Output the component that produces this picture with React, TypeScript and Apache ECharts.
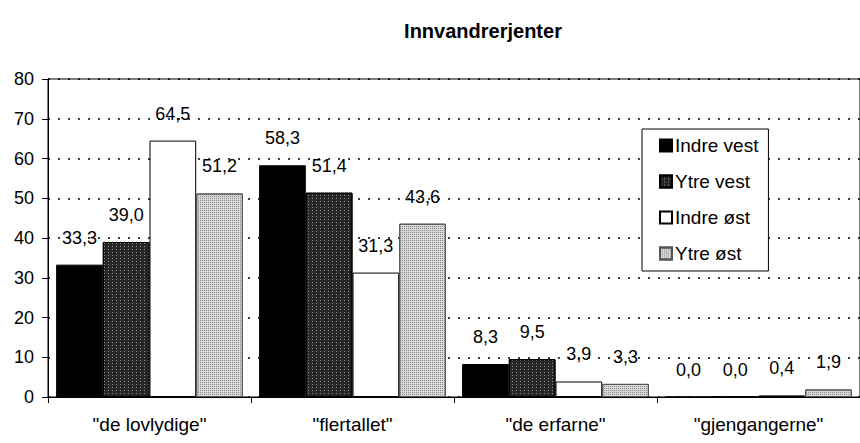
import React, { useEffect, useRef } from "react";
import * as echarts from "echarts";

const categories = ['"de lovlydige"', '"flertallet"', '"de erfarne"', '"gjengangerne"'];
const seriesNames = ["Indre vest", "Ytre vest", "Indre øst", "Ytre øst"];
const indreVest = [33.3, 58.3, 8.3, 0.0];
const ytreVest = [39.0, 51.4, 9.5, 0.0];
const indreOst = [64.5, 31.3, 3.9, 0.4];
const ytreOst = [51.2, 43.6, 3.3, 1.9];
const yTicks = { min: 0, max: 80, interval: 10 };

const FONT = "Liberation Sans, Arial, sans-serif";

export default function App() {
  const ref = useRef<HTMLDivElement>(null);
  useEffect(() => {
    if (!ref.current) return;
    const chart = echarts.init(ref.current, undefined, { renderer: "svg" });
    const label = {
      show: true,
      position: "top",
      distance: 18,
      color: "#000",
      fontSize: 18,
      fontFamily: FONT,
      formatter: (p: any) => Number(p.value).toFixed(1).replace(".", ","),
    };
    const styles: any[] = [
      { color: "#000", borderColor: "#000", borderWidth: 1 },
      {
        color: "#262626",
        borderColor: "#000",
        borderWidth: 1,
        decal: { symbol: "rect", symbolSize: 1, dashArrayX: [1, 3], dashArrayY: [1, 2], color: "rgba(190,190,190,0.7)" },
      },
      { color: "#fff", borderColor: "#000", borderWidth: 1 },
      {
        color: "#d8d8d8",
        borderColor: "#555",
        borderWidth: 1,
        decal: { symbol: "rect", symbolSize: 1, dashArrayX: [1, 1], dashArrayY: [1, 1], color: "rgba(90,90,90,0.6)" },
      },
    ];
    const values = [indreVest, ytreVest, indreOst, ytreOst];
    chart.setOption({
      animation: false,
      backgroundColor: "#fff",
      title: {
        text: "Innvandrerjenter",
        left: 478,
        textAlign: "center",
        top: 16,
        textStyle: { fontFamily: FONT, fontSize: 20, fontWeight: "bold", color: "#000" },
      },
      legend: {
        orient: "vertical",
        left: 642,
        top: 129,
        padding: [7, 10, 8, 17],
        itemGap: 17,
        itemWidth: 12,
        itemHeight: 12,
        icon: "rect",
        borderColor: "#000",
        borderWidth: 1,
        backgroundColor: "#fff",
        textStyle: { fontFamily: FONT, fontSize: 19, color: "#000", padding: [0, 0, 0, -2] },
        data: seriesNames,
      },
      grid: {
        left: 48,
        top: 79,
        width: 817,
        height: 318,
        show: true,
        borderColor: "#000",
        borderWidth: 1,
        containLabel: false,
      },
      xAxis: {
        type: "category",
        data: categories,
        axisLine: { lineStyle: { color: "#000", width: 1 } },
        axisTick: { show: true, length: 6, lineStyle: { color: "#000" } },
        axisLabel: { color: "#000", fontFamily: FONT, fontSize: 19, margin: 18 },
      },
      yAxis: {
        type: "value",
        min: yTicks.min,
        max: yTicks.max,
        interval: yTicks.interval,
        axisLine: { show: true, lineStyle: { color: "#000", width: 1 } },
        axisTick: { show: true, length: 6, lineStyle: { color: "#000" } },
        axisLabel: { color: "#000", fontFamily: FONT, fontSize: 18, margin: 14 },
        splitLine: { show: true, lineStyle: { color: "#000", type: [2, 8], width: 1.5 } },
      },
      series: seriesNames.map((name, i) => ({
        name,
        type: "bar",
        data: values[i],
        barGap: "0%",
        barCategoryGap: "8%",
        itemStyle: styles[i],
        label,
      })),
    });
    return () => chart.dispose();
  }, []);
  return <div ref={ref} style={{ position: "absolute", left: 0, top: 0, width: 860, height: 443 }} />;
}
